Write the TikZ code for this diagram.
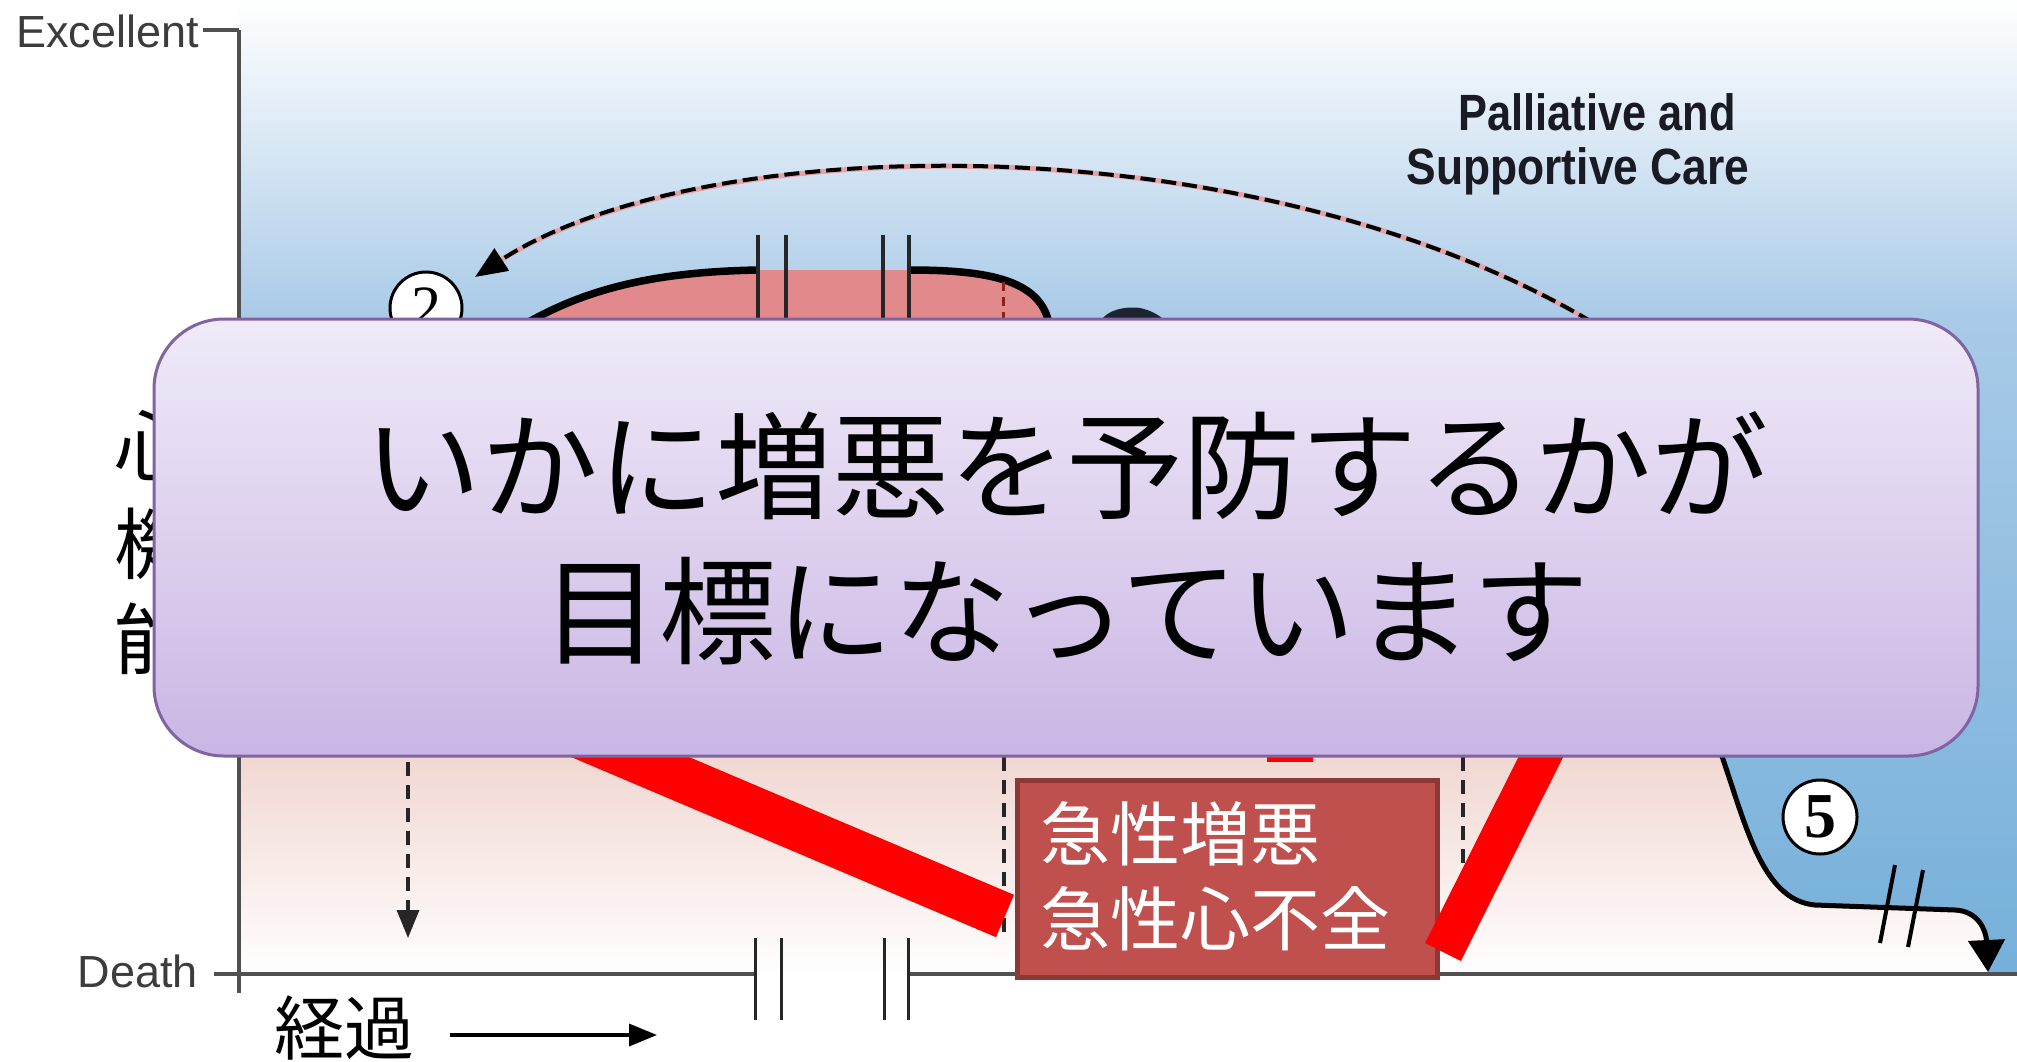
\documentclass[tikz,border=0pt]{standalone}
\usepackage{fontspec}
\usepackage{graphicx}
\setmainfont{Liberation Sans}
\newfontfamily\cjk{Noto Sans CJK JP}
\newfontfamily\digitfont{Liberation Serif}
\usetikzlibrary{arrows.meta}
\definecolor{bgA}{HTML}{E2EDF7}
\definecolor{bgB}{HTML}{A8CAE7}
\definecolor{bgC}{HTML}{76B0DA}
\definecolor{pinkA}{HTML}{EDCDC6}
\definecolor{pinkB}{HTML}{F6E4DF}
\definecolor{humpfill}{HTML}{E28A8B}
\definecolor{boxtop}{HTML}{F0EAF8}
\definecolor{boxbot}{HTML}{C9B6E4}
\definecolor{boxborder}{HTML}{8064A2}
\definecolor{efill}{HTML}{C0504D}
\definecolor{eborder}{HTML}{8C3836}
\definecolor{axisgray}{HTML}{505050}
\definecolor{labgray}{HTML}{3C3C3C}
\definecolor{arcpink}{HTML}{E6A2A8}
\definecolor{txtdark}{HTML}{1A1A24}
\definecolor{dashred}{HTML}{8B2020}
\definecolor{blobdark}{HTML}{1C2430}
\tikzset{
  axisline/.style={draw=axisgray, line width=3.5pt},
  breakbar/.style={draw=black!85, line width=3.5pt},
  thickcurve/.style={draw=black, line width=5pt},
  dashline/.style={draw=black!85, line width=3.2pt, dash pattern=on 14pt off 9pt},
  axlabel/.style={inner sep=0pt, text=labgray, font=\fontsize{45}{45}\selectfont},
  numcircle/.style={circle, draw=black, line width=3pt, fill=white, inner sep=0pt},
  redband/.style={draw=red, line width=#1},
  goaltext/.style={inner sep=0pt, anchor=base, font=\cjk\fontsize{117}{140}\selectfont},
  acutetext/.style={inner sep=0pt, anchor=base west, text=white, font=\cjk\fontsize{70}{70}\selectfont},
  sidetext/.style={inner sep=0pt, anchor=base, font=\cjk\fontsize{78}{78}\selectfont},
  paltext/.style={inner sep=0pt, anchor=base, text=txtdark, font=\bfseries\fontsize{51}{51}\selectfont},
}
\begin{document}
\begin{tikzpicture}[x=1pt,y=-1pt]
\useasboundingbox (0,0) rectangle (2017,1061);
\fill[white] (0,0) rectangle (2017,1061);
% background gradient of plot area
\shade[top color=white, bottom color=bgA] (239,0) rectangle (2017,111);
\shade[top color=bgA, bottom color=bgB] (239,110) rectangle (2017,321);
\shade[top color=bgB, bottom color=bgC] (239,320) rectangle (2017,972);
% lower pink region
\shade[top color=pinkA, middle color=pinkB, bottom color=white]
  (239,700) -- (1700,700) -- (1718,745) .. controls (1745,820) and (1760,900) .. (1815,905)
  -- (1955,910) .. controls (1978,911) and (1986,930) .. (1988,970) -- (1988,976) -- (239,976) -- cycle;
\fill[bgC] (1988,960) rectangle (2017,973);
% pink hump at top
\fill[humpfill] (515,330) .. controls (580,290) and (650,272) .. (758,270) -- (909,270)
  .. controls (990,270) and (1045,280) .. (1050,330) -- cycle;
\draw[line width=7.5pt] (515,330) .. controls (580,290) and (650,272) .. (758,270);
\draw[line width=7.5pt] (909,270) .. controls (990,270) and (1045,280) .. (1050,330);
\fill[blobdark] (1100,322) .. controls (1106,310) and (1125,306) .. (1140,308) .. controls (1150,310) and (1160,315) .. (1166,322) -- cycle;
\foreach \bx in {758,786,883,909} \draw[breakbar] (\bx,235) -- (\bx,322);
\draw[draw=dashred, line width=3pt, dash pattern=on 9pt off 6pt] (1003,282) -- (1003,322);
% dashed arc
\coordinate (arcS) at (1592,322);
\coordinate (arcE) at (475,277);
\draw[arcpink, line width=5pt, shorten >=26pt] (arcS) .. controls (1250,120) and (700,130) .. (arcE);
\draw[line width=4pt, dash pattern=on 15pt off 6pt, -{Triangle[length=32pt,width=26pt]}]
  (arcS) .. controls (1250,120) and (700,130) .. (arcE);
% circle 2
\node[numcircle, minimum size=72pt, font=\digitfont\fontsize{60}{60}\selectfont] (c2) at (426,308) {2};
% Palliative text
\node[paltext] (pal1) at (1597,130) {\scalebox{0.85}[1]{Palliative and}};
\node[paltext] (pal2) at (1578,184) {\scalebox{0.87}[1]{Supportive Care}};
% axes
\draw[axisline] (239,30) -- (239,993);
\draw[axisline] (203,30) -- (239,30);
\draw[axisline] (214,974) -- (239,974);
\draw[axisline] (239,974) -- (755,974);
\draw[axisline] (908,974) -- (2017,974);
\foreach \bx in {755,781,884,908} \draw[breakbar, line width=3pt] (\bx,938) -- (\bx,1020);
\node[axlabel, anchor=base east] (exc) at (199,47) {Excellent};
\node[axlabel, anchor=base east] (death) at (198,987) {Death};
% curve 5
\draw[thickcurve, -{Triangle[length=32pt,width=36pt]}] (1718,745) .. controls (1745,820) and (1760,900) .. (1815,905)
  -- (1955,910) .. controls (1978,911) and (1986,930) .. (1988,972);
\draw[line width=4pt] (1895,865) -- (1880,943);
\draw[line width=4pt] (1923,870) -- (1908,947);
\node[numcircle, minimum size=74pt, font=\digitfont\bfseries\fontsize{64}{64}\selectfont] (c5) at (1820,817) {5};
% dashed lines
\coordinate (dA) at (408,762);
\coordinate (dB) at (408,938);
\draw[dashline, -{Triangle[length=28pt,width=22pt]}] (dA) -- (dB);
\draw[dashline] (1004,757) -- (1004,940);
\draw[dashline] (1463,757) -- (1463,885);
% side text
\node[sidetext] (s1) at (153,475) {心};
\node[sidetext] (s2) at (153,573) {機};
\node[sidetext] (s3) at (153,668) {能};
% acute box
\node[draw=eborder, line width=5pt, fill=efill, minimum width=420pt, minimum height=197pt, inner sep=0pt] (acute) at (1227,878.5) {};
\node[acutetext] (a1) at (1040,860) {急性増悪};
\node[acutetext] (a2) at (1040,945) {急性心不全};
% red bands
\draw[redband=46pt] (255,598) -- (1005,916);
\draw[redband=40pt] (1619,601) -- (1443,952);
\fill[red] (1267,754) rectangle (1313,762);
% goal box
\node[draw=boxborder, line width=3pt, rounded corners=70pt, top color=boxtop, bottom color=boxbot,
  minimum width=1824pt, minimum height=437pt, inner sep=0pt] (goal) at (1066,537.5) {};
\node[goaltext] (g1) at (1066,510) {いかに増悪を予防するかが};
\node[goaltext] (g2) at (1066,655) {目標になっています};
% time arrow
\node[inner sep=0pt, anchor=base, font=\cjk\fontsize{70}{70}\selectfont] (time) at (344,1054) {経過};
\coordinate (tS) at (450,1035);
\coordinate (tE) at (657,1035);
\draw[line width=3.5pt, -{Triangle[length=28pt,width=22pt]}] (tS) -- (tE);
\end{tikzpicture}
\end{document}
